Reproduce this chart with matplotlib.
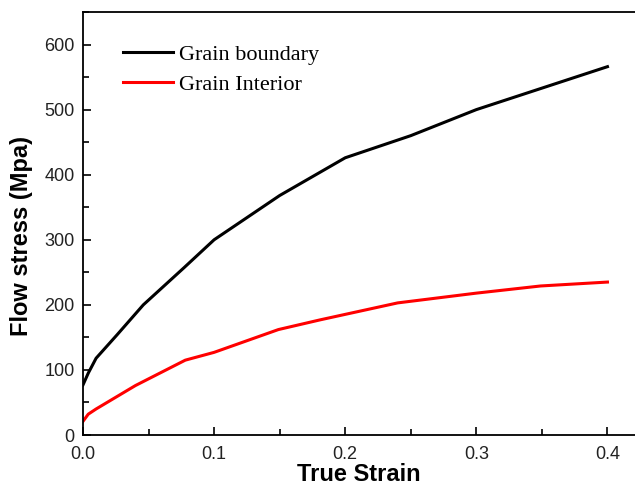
import matplotlib
matplotlib.use("Agg")
import matplotlib.pyplot as plt
from matplotlib.ticker import MultipleLocator

gb_strain = [0.0, 0.004, 0.01, 0.026, 0.046, 0.077, 0.1, 0.15, 0.2, 0.25, 0.3, 0.35, 0.4]
gb_stress = [77, 95, 118, 154, 200, 257, 300, 368, 426, 460, 500, 533, 566]

gi_strain = [0.0, 0.004, 0.01, 0.04, 0.078, 0.1, 0.149, 0.181, 0.24, 0.3, 0.349, 0.4]
gi_stress = [21, 32, 40, 76, 115, 127, 162, 177, 203, 218, 229, 235]

x_ticks = [0.0, 0.1, 0.2, 0.3, 0.4]
x_ticklabels = ['0.0', '0.1', '0.2', '0.3', '0.4']

fig = plt.figure(figsize=(6.35, 4.86), dpi=100)
ax = fig.add_axes([83/635, 1-435/486, (635-83)/635, (435-12)/486])

ax.plot(gb_strain, gb_stress, color='black', lw=2.2, label='Grain boundary')
ax.plot(gi_strain, gi_stress, color='#ff0000', lw=2.2, label='Grain Interior')

ax.set_xlim(0, 0.421)
ax.set_ylim(0, 650)
ax.set_xticks(x_ticks)
ax.set_xticklabels(x_ticklabels)
ax.xaxis.set_minor_locator(MultipleLocator(0.05))
ax.yaxis.set_major_locator(MultipleLocator(100))
ax.yaxis.set_minor_locator(MultipleLocator(50))
ax.tick_params(which='both', direction='in', top=False, right=False,
               labelsize=13, width=1.2)
ax.tick_params(which='major', length=6)
ax.tick_params(which='minor', length=4)
ax.tick_params(axis='x', which='major', pad=8)
ax.tick_params(axis='y', which='major', pad=6)
for lab in ax.get_xticklabels() + ax.get_yticklabels():
    lab.set_fontfamily('Liberation Sans')
    lab.set_color('#222222')
for s in ax.spines.values():
    s.set_linewidth(1.3)
ax.spines['right'].set_visible(False)

ax.set_xlabel('True Strain', fontsize=17, fontweight='bold', family='Liberation Sans', labelpad=0)
ax.set_ylabel('Flow stress (Mpa)', fontsize=17, fontweight='bold', family='Liberation Sans', labelpad=8)
ax.yaxis.label.set_y(0.47)

leg = ax.legend(loc='upper left', bbox_to_anchor=(0.072, 0.923), frameon=False,
                borderaxespad=0, borderpad=0,
                prop={'family': 'Liberation Serif', 'size': 16},
                handlelength=2.25, handletextpad=0.3, labelspacing=0.4)

fig.savefig('out.png', dpi=100)
